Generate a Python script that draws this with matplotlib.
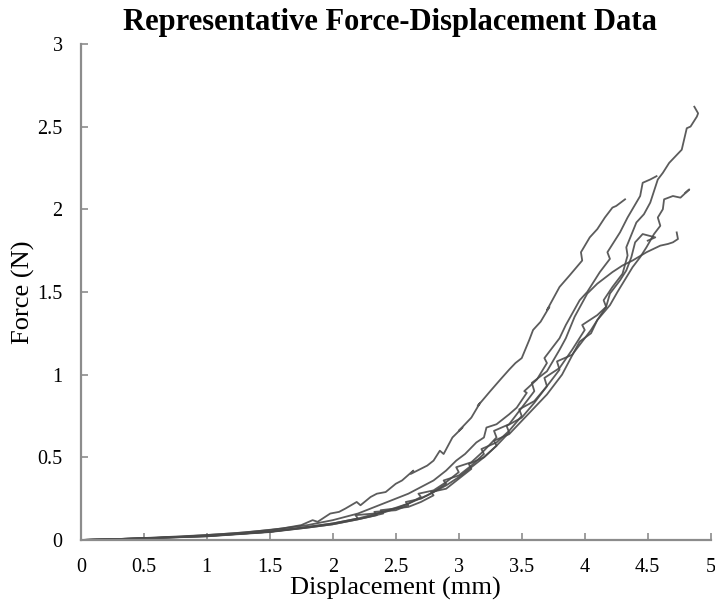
import matplotlib
matplotlib.use("Agg")
import matplotlib.pyplot as plt

# Force-displacement traces (displacement in mm, force in N)
x_a = [0, 0.5, 1.0, 1.5, 1.8, 2.0, 2.2, 2.4, 2.6, 2.75, 2.9, 3.0, 3.1, 3.2, 3.3, 3.28, 3.4, 3.5, 3.6, 3.7, 3.75,
       3.82, 3.91, 3.96, 4.05, 4.1, 4.17, 4.15, 4.22, 4.3, 4.34, 4.33, 4.41, 4.47, 4.52, 4.58, 4.62, 4.67, 4.72,
       4.77, 4.81, 4.84, 4.89, 4.9, 4.87]
y_a = [0, 0.01, 0.025, 0.05, 0.08, 0.1, 0.13, 0.17, 0.22, 0.27, 0.33, 0.38, 0.44, 0.5, 0.57, 0.6, 0.64, 0.72, 0.8, 0.88, 0.93,
       1.0, 1.13, 1.2, 1.25, 1.33, 1.41, 1.45, 1.53, 1.61, 1.72, 1.77, 1.92, 1.97, 2.04, 2.18, 2.22, 2.28, 2.32,
       2.36, 2.49, 2.5, 2.56, 2.58, 2.62]

x_b = [0, 0.3, 0.6, 1.0, 1.3, 1.6, 1.75, 1.84, 1.88, 1.98, 2.05, 2.1, 2.19, 2.22, 2.3, 2.35, 2.42, 2.5, 2.55, 2.64,
       2.62, 2.75, 2.8, 2.85, 2.88, 2.95, 3.03, 3.0, 3.1, 3.17, 3.15, 3.25, 3.33, 3.4, 3.45, 3.5, 3.56, 3.59, 3.65,
       3.72, 3.7, 3.8, 3.88, 3.98, 3.97, 4.04, 4.1, 4.16, 4.22, 4.25, 4.32]
y_b = [0, 0.006, 0.015, 0.03, 0.045, 0.07, 0.09, 0.12, 0.11, 0.16, 0.17, 0.19, 0.23, 0.21, 0.26, 0.28, 0.29, 0.34, 0.36, 0.42,
       0.40, 0.45, 0.48, 0.54, 0.52, 0.62, 0.68, 0.66, 0.74, 0.83, 0.81, 0.9, 0.97, 1.03, 1.07, 1.1, 1.21, 1.27, 1.32,
       1.41, 1.39, 1.53, 1.6, 1.69, 1.74, 1.83, 1.88, 1.95, 2.01, 2.02, 2.06]

x_c = [0, 0.4, 0.8, 1.2, 1.5, 1.8, 2.0, 2.1, 2.2, 2.3, 2.4, 2.5, 2.6, 2.7, 2.8, 2.9, 2.98, 3.05, 3.14, 3.2,
       3.22, 3.3, 3.4, 3.46, 3.54, 3.52, 3.62, 3.7, 3.68, 3.8, 3.85, 3.96, 4.02, 4.12, 4.2, 4.18, 4.28, 4.34, 4.44,
       4.46, 4.52, 4.57]
y_c = [0, 0.008, 0.02, 0.04, 0.06, 0.09, 0.12, 0.14, 0.16, 0.19, 0.22, 0.25, 0.28, 0.32, 0.36, 0.42, 0.48, 0.52, 0.59, 0.62,
       0.68, 0.7, 0.76, 0.8, 0.89, 0.9, 0.97, 1.07, 1.1, 1.22, 1.3, 1.45, 1.5, 1.62, 1.7, 1.74, 1.86, 1.95, 2.08,
       2.16, 2.18, 2.2]

x_d = [0, 0.5, 1.0, 1.5, 1.8, 2.0, 2.2, 2.35, 2.33, 2.5, 2.6, 2.58, 2.7, 2.8, 2.9, 2.88, 3.0, 3.1, 3.2, 3.18,
       3.3, 3.4, 3.5, 3.48, 3.6, 3.7, 3.8, 3.78, 3.9, 4.0, 4.05, 4.1, 4.2, 4.26, 4.34, 4.38, 4.44, 4.49, 4.55, 4.6,
       4.58, 4.62, 4.63, 4.7, 4.76, 4.83, 4.8]
y_d = [0, 0.01, 0.022, 0.048, 0.075, 0.095, 0.125, 0.15, 0.17, 0.18, 0.21, 0.23, 0.25, 0.29, 0.34, 0.36, 0.39, 0.45, 0.52, 0.55,
       0.59, 0.66, 0.75, 0.79, 0.84, 0.93, 1.03, 1.08, 1.12, 1.22, 1.27, 1.33, 1.42, 1.5, 1.6, 1.65, 1.71, 1.77, 1.85, 1.9,
       1.95, 2.0, 2.06, 2.08, 2.07, 2.12, 2.1]

x_e = [0, 0.5, 1.0, 1.5, 1.8, 2.0, 2.2, 2.18, 2.4, 2.5, 2.6, 2.7, 2.68, 2.8, 2.9, 3.0, 2.98, 3.1, 3.2, 3.3,
       3.28, 3.4, 3.5, 3.6, 3.58, 3.7, 3.8, 3.85, 3.92, 4.02, 4.1, 4.22, 4.3, 4.38, 4.49, 4.6, 4.66, 4.7, 4.74, 4.73]
y_e = [0, 0.009, 0.024, 0.05, 0.078, 0.1, 0.13, 0.15, 0.165, 0.19, 0.22, 0.26, 0.28, 0.3, 0.35, 0.41, 0.44, 0.47, 0.54, 0.62,
       0.66, 0.7, 0.8, 0.9, 0.95, 1.02, 1.15, 1.22, 1.35, 1.49, 1.55, 1.62, 1.66, 1.69, 1.74, 1.78, 1.79, 1.8, 1.82, 1.86]

x_f = [0, 0.5, 1.0, 1.5, 1.8, 2.0, 2.2, 2.4, 2.38, 2.6, 2.7, 2.8, 2.78, 2.9, 3.0, 3.1, 3.08, 3.2, 3.3, 3.4,
       3.38, 3.5, 3.6, 3.7, 3.68, 3.8, 3.9, 4.0, 3.98, 4.1, 4.17, 4.2, 4.28, 4.33, 4.37, 4.4, 4.46, 4.56, 4.5]
y_f = [0, 0.01, 0.023, 0.05, 0.075, 0.095, 0.125, 0.16, 0.18, 0.2, 0.23, 0.27, 0.29, 0.31, 0.37, 0.43, 0.46, 0.5, 0.57, 0.65,
       0.69, 0.74, 0.83, 0.93, 0.98, 1.04, 1.15, 1.27, 1.3, 1.36, 1.41, 1.49, 1.57, 1.63, 1.71, 1.8, 1.85, 1.83, 1.81]

traces = [(x_a, y_a), (x_b, y_b), (x_c, y_c), (x_d, y_d), (x_e, y_e), (x_f, y_f)]

x_ticks = [0, 0.5, 1, 1.5, 2, 2.5, 3, 3.5, 4, 4.5, 5]
x_tick_labels = ["0", "0.5", "1", "1.5", "2", "2.5", "3", "3.5", "4", "4.5", "5"]
y_ticks = [0, 0.5, 1, 1.5, 2, 2.5, 3]
y_tick_labels = ["0", "0.5", "1", "1.5", "2", "2.5", "3"]

plt.rcParams["font.family"] = ["Liberation Serif", "DejaVu Serif"]

fig = plt.figure(figsize=(7.15, 6.01), dpi=100)
ax = fig.add_axes([0.113, 0.1015, 0.881, 0.8255])

for xs, ys in traces:
    ax.plot(xs, ys, color="#4a4a4a", lw=1.3, alpha=0.9)

ax.set_xlim(0, 5)
ax.set_ylim(0, 3)
ax.set_xticks(x_ticks)
ax.set_xticklabels(x_tick_labels)
ax.set_yticks(y_ticks)
ax.set_yticklabels(y_tick_labels)

for side in ["top", "right"]:
    ax.spines[side].set_visible(False)
for side in ["left", "bottom"]:
    ax.spines[side].set_color("#8c8c8c")
    ax.spines[side].set_linewidth(1.6)
ax.tick_params(direction="in", length=5, width=1.2, color="#8c8c8c", labelsize=14.5, pad=13)

ax.set_xlabel("Displacement (mm)", fontsize=19, labelpad=0)
ax.set_ylabel("Force (N)", fontsize=19, labelpad=2)
ax.set_title("Representative Force-Displacement Data", fontsize=22, fontweight="bold",
             x=0.4905, pad=10)

fig.savefig("out.png", dpi=100)
